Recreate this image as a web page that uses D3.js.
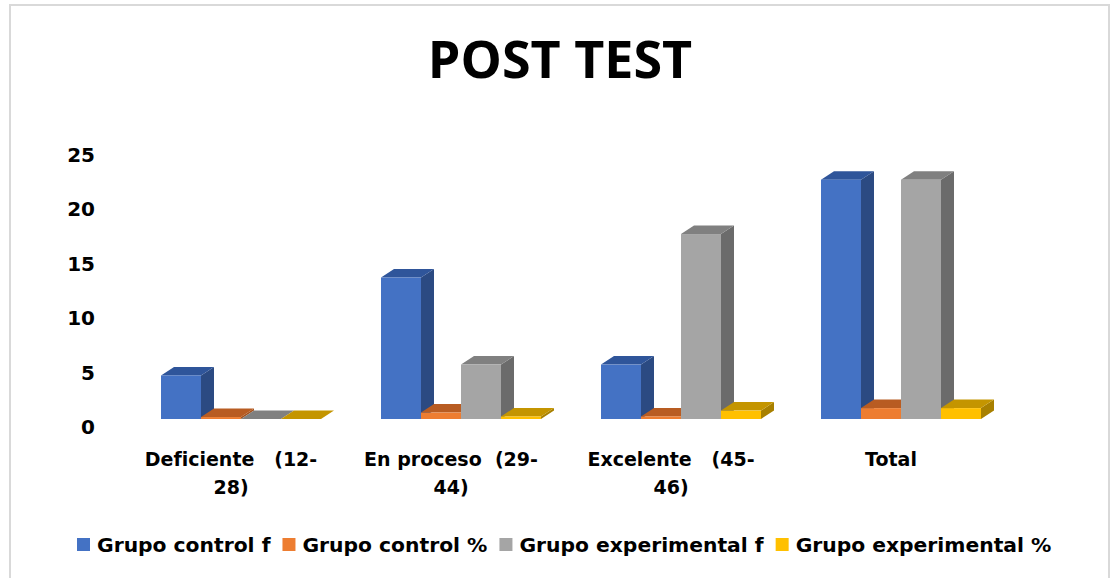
<!DOCTYPE html>
<html lang="es">
<head>
    <meta charset="UTF-8">
    <title>POST TEST</title>
    <script src="https://cdn.jsdelivr.net/npm/d3@7"></script>
    <style>
        body { margin: 0; background: #fff; }
        text { font-family: "DejaVu Sans", sans-serif; font-weight: bold; fill: #000; }
    </style>
</head>
<body>
    <svg id="chart" width="1112" height="578"></svg>

    <script>
        const categories = [["Deficiente   (12-", "28)"], ["En proceso  (29-", "44)"], ["Excelente   (45-", "46)"], ["Total"]];
        const seriesNames = ["Grupo control f", "Grupo control %", "Grupo experimental f", "Grupo experimental %"];
        const controlF = [4, 13, 5, 22];
        const controlPct = [0.18, 0.59, 0.23, 1];
        const expF = [0, 5, 17, 22];
        const expPct = [0, 0.23, 0.77, 1];
        const yTicks = [0, 5, 10, 15, 20, 25];

        const seriesValues = [controlF, controlPct, expF, expPct];
        const colors = [
            { front: "#4472C4", top: "#2F559A", side: "#2B4A82" },
            { front: "#ED7D31", top: "#B85C22", side: "#A5521D" },
            { front: "#A5A5A5", top: "#808080", side: "#6B6B6B" },
            { front: "#FFC000", top: "#C49500", side: "#A88000" }
        ];

        const svg = d3.select("#chart");
        const dx = 13, dy = 8.5;

        // frame
        svg.append("rect")
            .attr("x", 10).attr("y", 5)
            .attr("width", 1099).attr("height", 600)
            .attr("fill", "none")
            .attr("stroke", "#d9d9d9")
            .attr("stroke-width", 2);

        svg.append("text")
            .attr("x", 560).attr("y", 78)
            .attr("text-anchor", "middle")
            .style("font-family", "'Open Sans', sans-serif")
            .style("font-size", "52px")
            .text("POST TEST");

        const x = d3.scaleBand()
            .domain(d3.range(categories.length))
            .range([131, 1011])
            .paddingInner(60 / 220)
            .paddingOuter(30 / 220);

        const xs = d3.scaleBand()
            .domain(d3.range(seriesNames.length))
            .range([0, x.bandwidth()]);

        const y = d3.scaleLinear().domain([0, 25]).range([419, 147]);

        // y tick labels
        svg.append("g").selectAll("text")
            .data(yTicks)
            .join("text")
            .attr("x", 95)
            .attr("y", d => y(d) + 8)
            .attr("text-anchor", "end")
            .attr("dominant-baseline", "central")
            .style("font-size", "20px")
            .text(d => d);

        // bars, drawn left to right so each front face covers the previous side
        const bars = [];
        categories.forEach((c, ci) => {
            seriesValues.forEach((vals, si) => {
                bars.push({ ci, si, v: vals[ci] });
            });
        });

        const barG = svg.append("g");
        bars.forEach(b => {
            const x0 = x(b.ci) + xs(b.si);
            const w = xs.bandwidth();
            const y0 = y(0);
            const y1 = y(b.v);
            const c = colors[b.si];
            const g = barG.append("g");
            // side
            g.append("path")
                .attr("d", `M${x0 + w},${y0} L${x0 + w + dx},${y0 - dy} L${x0 + w + dx},${y1 - dy} L${x0 + w},${y1} Z`)
                .attr("fill", c.side);
            // top
            g.append("path")
                .attr("d", `M${x0},${y1} L${x0 + dx},${y1 - dy} L${x0 + w + dx},${y1 - dy} L${x0 + w},${y1} Z`)
                .attr("fill", c.top);
            // front
            g.append("rect")
                .attr("x", x0).attr("y", y1)
                .attr("width", w).attr("height", y0 - y1)
                .attr("fill", c.front);
        });

        // category labels
        const catG = svg.append("g");
        categories.forEach((lines, ci) => {
            const t = catG.append("text")
                .attr("x", x(ci) + x.bandwidth() / 2 - 10)
                .attr("y", 466)
                .attr("text-anchor", "middle")
                .style("font-size", "19px")
                .style("white-space", "pre");
            lines.forEach((line, li) => {
                t.append("tspan")
                    .attr("x", x(ci) + x.bandwidth() / 2 - 10)
                    .attr("dy", li === 0 ? 0 : 28)
                    .text(line);
            });
        });

        // legend
        const legend = svg.append("g");
        let lx = 77;
        seriesNames.forEach((name, i) => {
            legend.append("rect")
                .attr("x", lx).attr("y", 538)
                .attr("width", 13).attr("height", 13)
                .attr("fill", colors[i].front);
            const t = legend.append("text")
                .attr("x", lx + 20).attr("y", 552)
                .style("font-size", "20.3px")
                .text(name);
            lx += 20 + t.node().getComputedTextLength() + 12;
        });
    </script>
</body>
</html>
